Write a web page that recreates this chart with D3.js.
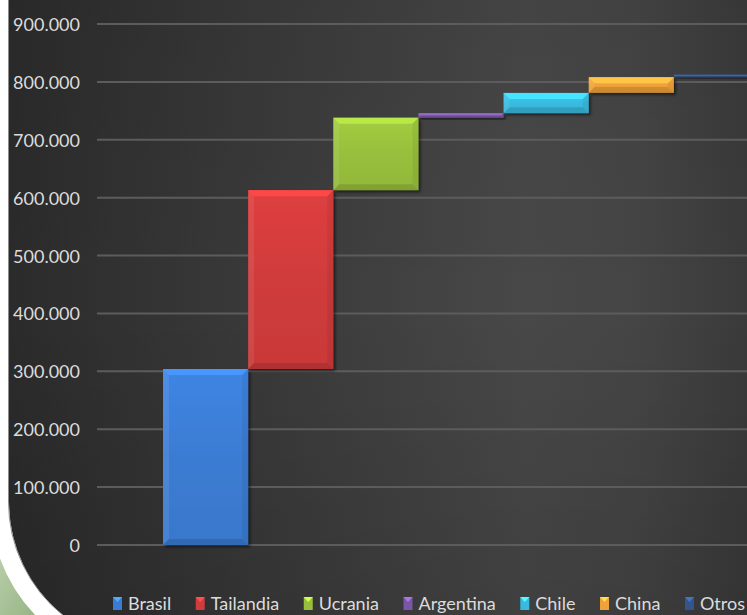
<!DOCTYPE html>
<html><head><meta charset="utf-8">
<script src="https://cdn.jsdelivr.net/npm/d3@7"></script>
<style>body{margin:0;background:#fff}svg{display:block}</style>
</head><body><svg id="c" width="747" height="615"></svg>
<script>
// ---- data ----
const categories = ["Brasil", "Tailandia", "Ucrania", "Argentina", "Chile", "China", "Otros"];
const values = [304000, 309000, 125000, 8000, 35000, 27000, 4000];
const yTicks = [0, 100000, 200000, 300000, 400000, 500000, 600000, 700000, 800000, 900000];
const barColors = ["#3b7cd3", "#d03b3b", "#98bf3c", "#7a56a6", "#39bbdf", "#efa23a", "#33558b"];

const FONT = "Lato, 'Open Sans', sans-serif";
const W = 747, H = 615;

function draw() {
const svg = d3.select("#c");
svg.selectAll("*").remove();
const defs = svg.append("defs");

const bg = defs.append("linearGradient").attr("id", "bg").attr("x1", "0").attr("x2", "1").attr("y1", "0").attr("y2", "0");
[[0, "#2b2b2b"], [0.3, "#383838"], [0.7, "#484848"], [0.85, "#454545"], [1, "#3a3a3a"]]
  .forEach(([o, c]) => bg.append("stop").attr("offset", o).attr("stop-color", c));
const bgv = defs.append("linearGradient").attr("id", "bgv").attr("x1", "0").attr("x2", "0").attr("y1", "0").attr("y2", "1");
[[0, "#000", 0.06], [0.5, "#000", 0], [1, "#000", 0.12]]
  .forEach(([o, c, a]) => bgv.append("stop").attr("offset", o).attr("stop-color", c).attr("stop-opacity", a));
const gg = defs.append("linearGradient").attr("id", "gg").attr("x1", "0").attr("x2", "1").attr("y1", "0").attr("y2", "1");
[[0, "#b7cda8"], [1, "#98b585"]].forEach(([o, c]) => gg.append("stop").attr("offset", o).attr("stop-color", c));

const sh = defs.append("filter").attr("id", "sh").attr("x", "-10%").attr("y", "-10%").attr("width", "130%").attr("height", "140%");
sh.append("feDropShadow").attr("dx", 2).attr("dy", 2).attr("stdDeviation", 1.6).attr("flood-color", "#000").attr("flood-opacity", 0.55);

svg.append("rect").attr("width", W).attr("height", H).attr("fill", "#ffffff");
svg.append("path").attr("d", "M0,558.4 A164,164 0 0 0 35.1,615 L0,615 Z").attr("fill", "url(#gg)");
const darkPath = "M9,0 H747 V615 H63.1 A145,145 0 0 1 9,502 Z";
svg.append("path").attr("d", darkPath).attr("fill", "url(#bg)");
svg.append("path").attr("d", darkPath).attr("fill", "url(#bgv)");
svg.append("path").attr("d", "M8.5,0 V502 A145.5,145.5 0 0 0 62.6,615").attr("fill", "none").attr("stroke", "#8c8c8c").attr("stroke-width", 1);

const y = d3.scaleLinear().domain([0, 900000]).range([545, 24]);
const x = d3.scaleBand().domain(categories).range([163, 759]).paddingInner(0).paddingOuter(0);
const loc = d3.formatLocale({decimal: ",", thousands: ".", grouping: [3], currency: ["", "€"]});
const fmt = loc.format(",");

svg.append("g").selectAll("line").data(yTicks).join("line")
  .attr("x1", 97).attr("x2", W)
  .attr("y1", d => y(d)).attr("y2", d => y(d))
  .attr("stroke", "#5c5c5c").attr("stroke-width", 2);

const axG = svg.append("g").attr("transform", "translate(80,0)")
  .call(d3.axisLeft(y).tickValues(yTicks).tickFormat(fmt).tickSize(0).tickPadding(0));
axG.select(".domain").remove();
axG.selectAll("text").attr("fill", "#dcdcdc").attr("font-family", FONT)
  .attr("font-size", 18).attr("dy", "0.36em");

let cum = 0;
const bars = categories.map((c, i) => {
  const b = {cat: c, v: values[i], start: cum, end: cum + values[i], color: barColors[i]};
  cum += values[i];
  return b;
});

bars.forEach((b, i) => {
  const gid = "bar" + i;
  const lg = defs.append("linearGradient").attr("id", gid).attr("x1", 0).attr("x2", 0).attr("y1", 0).attr("y2", 1);
  const base = d3.color(b.color);
  lg.append("stop").attr("offset", 0).attr("stop-color", base.brighter(0.2));
  lg.append("stop").attr("offset", 0.5).attr("stop-color", base);
  lg.append("stop").attr("offset", 1).attr("stop-color", base.darker(0.1));

  const x0 = x(b.cat), x1 = x0 + x.bandwidth();
  const yt = y(b.end), yb = y(b.start);
  const h = Math.max(yb - yt, 2.5);
  const top = yb - h;
  const bv = Math.min(6, h / 2);
  const g = svg.append("g");
  g.append("rect").attr("x", x0).attr("y", top).attr("width", x1 - x0).attr("height", h)
    .attr("fill", `url(#${gid})`).attr("filter", "url(#sh)");
  g.append("polygon").attr("points", [[x0, top], [x1, top], [x1 - bv, top + bv], [x0 + bv, top + bv]].join(" "))
    .attr("fill", base.brighter(0.55));
  g.append("polygon").attr("points", [[x0, top], [x0 + bv, top + bv], [x0 + bv, yb - bv], [x0, yb]].join(" "))
    .attr("fill", "#fff").attr("fill-opacity", 0.08);
  g.append("polygon").attr("points", [[x1, top], [x1 - bv, top + bv], [x1 - bv, yb - bv], [x1, yb]].join(" "))
    .attr("fill", "#000").attr("fill-opacity", 0.06);
  g.append("polygon").attr("points", [[x0, yb], [x0 + bv, yb - bv], [x1 - bv, yb - bv], [x1, yb]].join(" "))
    .attr("fill", "#000").attr("fill-opacity", 0.12);
});

const items = svg.append("g").selectAll("g").data(bars).join("g");
items.append("text").text(d => d.cat).attr("fill", "#dcdcdc")
  .attr("font-family", FONT).attr("font-size", 18).attr("y", 610);
const widths = [];
items.each(function () { widths.push(d3.select(this).select("text").node().getComputedTextLength()); });
const mW = 9, mGap = 6, startX = 113, endX = 745;
const totalItems = widths.reduce((s, w) => s + mW + mGap + w, 0);
const gap = (endX - startX - totalItems) / (categories.length - 1);
let cx = startX;
items.each(function (d, i) {
  const gsel = d3.select(this);
  const base = d3.color(d.color);
  gsel.insert("rect", "text").attr("x", cx).attr("y", 597).attr("width", mW).attr("height", 13).attr("fill", base);
  gsel.insert("polygon", "text").attr("points", [[cx, 597], [cx + mW, 597], [cx + mW / 2, 602]].join(" ")).attr("fill", base.brighter(0.9));
  gsel.select("text").attr("x", cx + mW + mGap);
  cx += mW + mGap + widths[i] + gap;
});
}

draw();
if (document.fonts && document.fonts.ready) document.fonts.ready.then(draw);
</script></body></html>
